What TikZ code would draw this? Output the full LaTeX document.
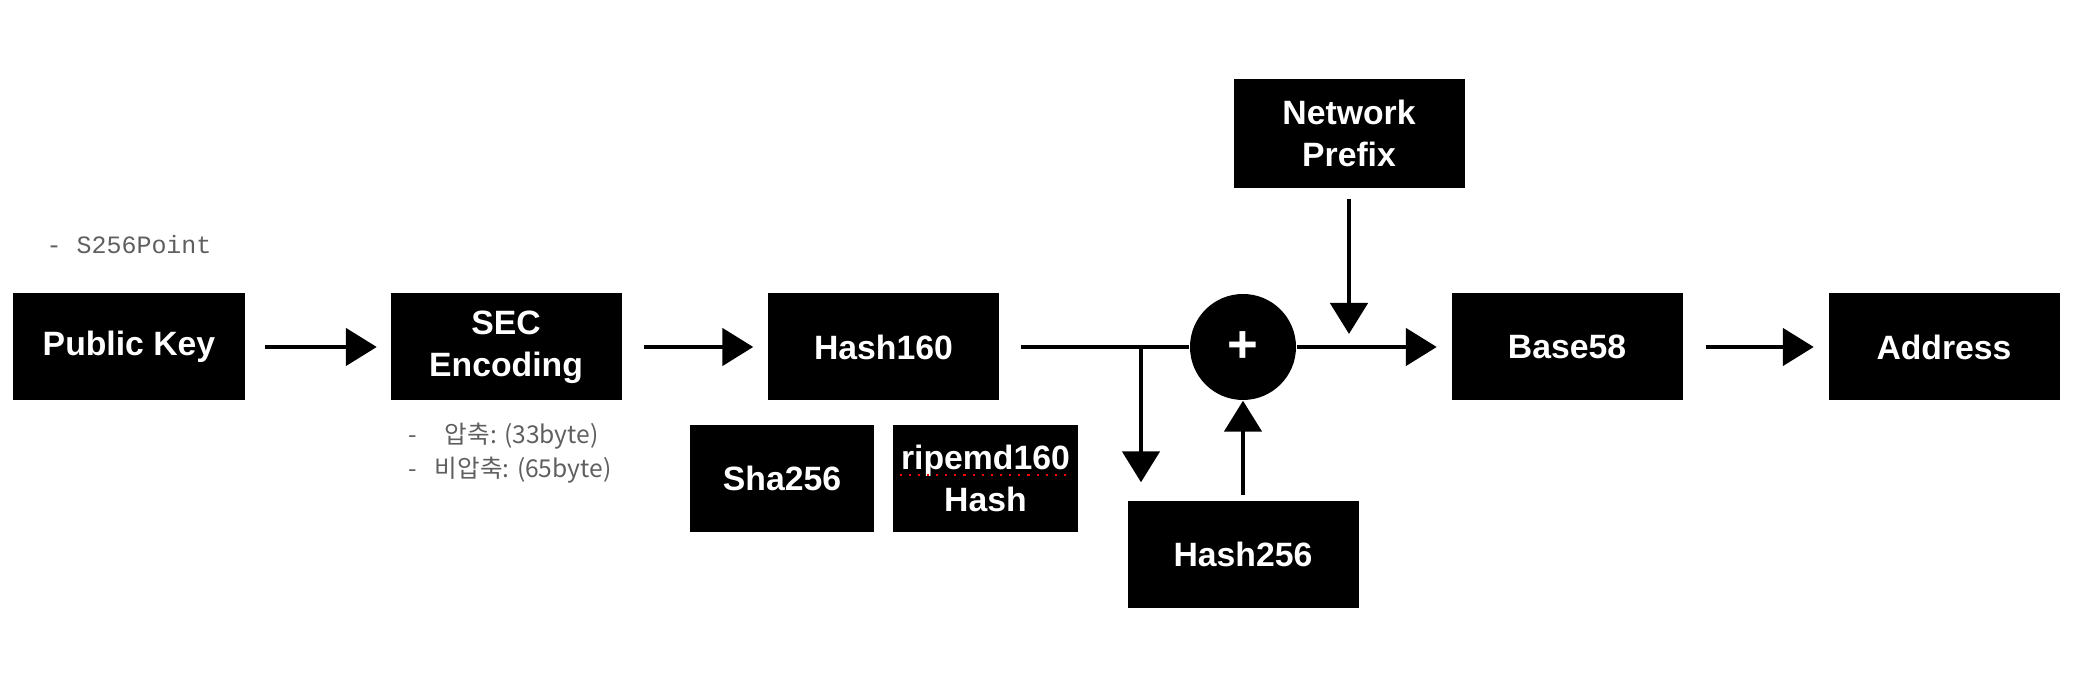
\documentclass[tikz,border=0pt]{standalone}
\usepackage{fontspec}
\setmainfont{Liberation Sans}
\newfontfamily\krfont{Noto Sans CJK KR}
\newfontfamily\codefont{Liberation Mono}
\usetikzlibrary{arrows.meta}
\definecolor{notegray}{HTML}{5F5F5F}

\begin{document}
\begin{tikzpicture}[
  blk/.style={fill=black, text=white, font=\fontsize{9.6}{12}\selectfont\bfseries, align=center, inner sep=0pt, minimum width=2.31cm, minimum height=1.07cm},
  flow/.style={line width=1.4pt, -{Triangle[length=0.31cm,width=0.37cm]}},
  wire/.style={line width=1.4pt},
  note/.style={text=notegray, align=left, inner sep=0pt}
]
\useasboundingbox (0,0) rectangle (20.74,-6.94);

\node[blk] (pub) at (1.29,-3.47) {Public Key};
\node[blk] (sec) at (5.06,-3.47) {SEC\\Encoding};
\node[blk] (hash160) at (8.835,-3.47) {Hash160};
\node[blk, minimum width=1.84cm] (sha) at (7.82,-4.785) {Sha256};
\node[blk, minimum width=1.85cm] (ripemd) at (9.855,-4.785) {ripemd160\\Hash};
\node[circle, fill=black, text=white, inner sep=0pt, minimum size=1.06cm, font=\fontsize{15}{15}\selectfont\bfseries] (plus) at (12.43,-3.47) {+};
\node[blk, minimum height=1.09cm] (prefix) at (13.49,-1.335) {Network\\Prefix};
\node[blk] (hash256) at (12.43,-5.545) {Hash256};
\node[blk] (base58) at (15.67,-3.47) {Base58};
\node[blk] (addr) at (19.44,-3.47) {Address};

% side notes
\node[note, anchor=west, font=\codefont\fontsize{7.1}{8}\selectfont] (point) at (0.46,-2.45) {- S256Point};
\node[note, anchor=west, font=\krfont\fontsize{7}{9.7}\selectfont] (secnote) at (4.08,-4.53) {-\hspace{1.12em}압축: (33byte)\\-\hspace{0.72em}비압축: (65byte)};
\draw[red, dotted, line width=0.6pt] ([xshift=-0.86cm,yshift=0.035cm]ripemd.center) -- ([xshift=0.83cm,yshift=0.035cm]ripemd.center);

\draw[flow, shorten <=0.2cm, shorten >=0.13cm] (pub) -- (sec);
\draw[flow, shorten <=0.22cm, shorten >=0.14cm] (sec) -- (hash160);
\draw[wire, shorten <=0.21cm] (hash160) -- (plus);
\coordinate (split) at (11.41,-3.47);
\draw[flow, shorten >=0.18cm] (split) -- (split |- hash256.north);
\draw[flow, shorten <=0.05cm] (hash256) -- (plus);
\draw[flow, shorten <=0.1cm, shorten >=0.13cm] (prefix) -- (prefix.south |- plus);
\draw[flow, shorten >=0.14cm] (plus) -- (base58);
\draw[flow, shorten <=0.23cm, shorten >=0.14cm] (base58) -- (addr);
\end{tikzpicture}
\end{document}
